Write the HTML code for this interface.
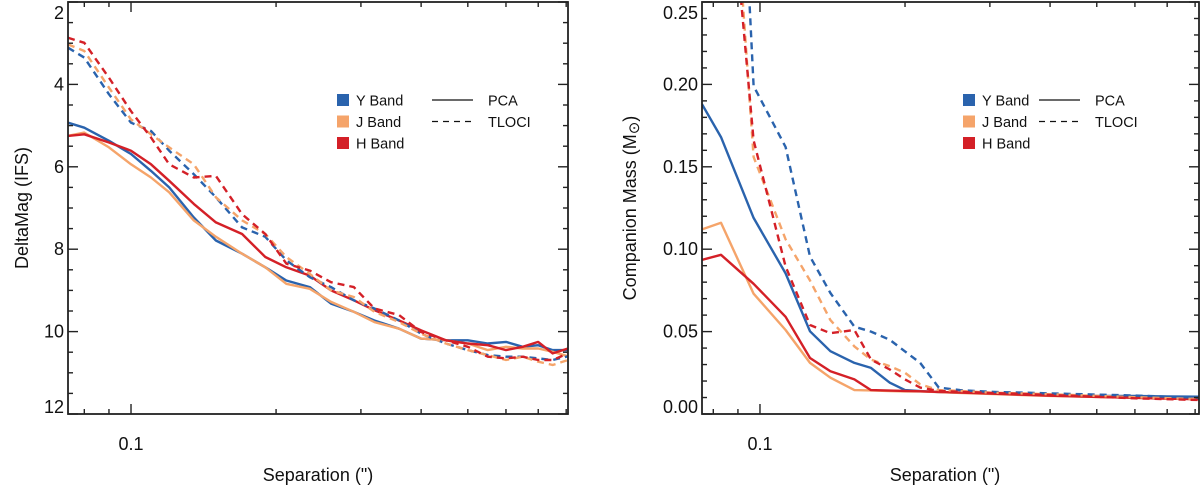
<!DOCTYPE html>
<html><head><meta charset="utf-8"><style>
html,body{margin:0;padding:0;background:#fff;}
svg{display:block;font-family:"Liberation Sans",sans-serif;}
</style></head><body>
<svg id="fig" width="1200" height="488" viewBox="0 0 1200 488"></svg>
<script>
// ---- Left chart data (DeltaMag) ----
const leftSep = [0.074,0.08,0.09,0.1,0.11,0.12,0.135,0.15,0.17,0.19,0.21,0.235,0.26,0.29,0.32,0.36,0.4,0.45,0.5,0.55,0.6,0.65,0.7,0.75,0.807];
const leftYPca = [4.93,5.05,5.37,5.69,6.10,6.5,7.23,7.79,8.11,8.44,8.76,8.92,9.32,9.52,9.73,9.93,10.17,10.21,10.21,10.29,10.25,10.37,10.33,10.45,10.45];
const leftJPca = [5.25,5.17,5.53,5.94,6.26,6.62,7.3,7.7,8.11,8.44,8.84,8.96,9.28,9.52,9.77,9.93,10.17,10.21,10.29,10.45,10.37,10.41,10.41,10.49,10.6];
const leftHPca = [5.25,5.21,5.41,5.61,5.94,6.34,6.9,7.35,7.63,8.19,8.44,8.64,9.0,9.24,9.48,9.73,9.97,10.21,10.29,10.33,10.45,10.37,10.25,10.53,10.41];
const leftYTloci = [3.11,3.35,4.24,4.93,5.13,5.61,6.18,6.74,7.47,7.7,8.27,8.68,8.92,9.24,9.44,9.73,10.05,10.29,10.45,10.57,10.61,10.61,10.65,10.69,10.6];
const leftJTloci = [3.03,3.19,4.08,4.85,5.21,5.53,5.94,6.74,7.3,7.63,8.19,8.6,9.0,9.16,9.52,9.77,10.05,10.29,10.45,10.57,10.69,10.61,10.73,10.81,10.69];
const leftHTloci = [2.87,2.99,3.84,4.65,5.29,5.94,6.26,6.22,7.15,7.63,8.35,8.52,8.8,8.92,9.44,9.6,10.01,10.21,10.37,10.61,10.65,10.61,10.69,10.69,10.53];
const leftYTicks = [2,4,6,8,10,12];
// ---- Right chart data (Companion mass) ----
const rightSep = [0.0758,0.083,0.097,0.113,0.127,0.14,0.157,0.17,0.186,0.2,0.215,0.235,0.26,0.3,0.35,0.4,0.5,0.6,0.7,0.815];
const rightYPca = [0.188,0.168,0.119,0.0853,0.0502,0.0381,0.031,0.028,0.019,0.0145,0.0139,0.0133,0.0129,0.0125,0.0119,0.0115,0.011,0.0109,0.0107,0.0105];
const rightJPca = [0.112,0.116,0.073,0.051,0.031,0.022,0.0145,0.0143,0.0139,0.0137,0.0137,0.0133,0.0128,0.0122,0.0115,0.011,0.0104,0.0098,0.0094,0.009];
const rightHPca = [0.0935,0.0966,0.079,0.059,0.034,0.026,0.021,0.0145,0.0142,0.014,0.0138,0.0134,0.013,0.0124,0.0117,0.0111,0.0104,0.0098,0.0093,0.009];
const rightYTloci = [0.8,0.6,0.199,0.162,0.0956,0.0734,0.053,0.05,0.045,0.038,0.031,0.016,0.0145,0.0135,0.013,0.0125,0.0118,0.0112,0.0105,0.0099];
const rightJTloci = [0.6,0.44,0.156,0.106,0.081,0.057,0.041,0.033,0.029,0.025,0.018,0.0145,0.014,0.013,0.0125,0.012,0.011,0.0102,0.0096,0.009];
const rightHTloci = [0.55,0.387,0.166,0.0895,0.054,0.049,0.051,0.033,0.027,0.021,0.016,0.014,0.0135,0.0128,0.0122,0.0115,0.0105,0.0095,0.009,0.0085];
const rightYTicks = ["0.00","0.05","0.10","0.15","0.20","0.25"];
const xMinorTicks = [0.08,0.09,0.1,0.2,0.3,0.4,0.5,0.6,0.7,0.8];

const C = {Y:'#2a63ad', J:'#f5a46a', H:'#d42027'};
const NS = 'http://www.w3.org/2000/svg';
const svg = document.getElementById('fig');
function mk(tag, attrs, parent){const e=document.createElementNS(NS,tag);for(const k in attrs)e.setAttribute(k,attrs[k]);(parent||svg).appendChild(e);return e;}

function chart(cfg){
  const g = mk('g',{});
  
  
  const {x0,x1,y0,y1,xmin,xmax,ymin,ymax} = cfg;
  const xs = v => x0 + (Math.log10(v)-Math.log10(xmin))/(Math.log10(xmax)-Math.log10(xmin))*(x1-x0);
  const ys = v => cfg.invert ? y0 + (v-ymin)/(ymax-ymin)*(y1-y0) : y1 - (v-ymin)/(ymax-ymin)*(y1-y0);
  const cid = 'clip-'+cfg.name;
  const cp = mk('clipPath',{id:cid},g); mk('rect',{x:x0,y:y0,width:x1-x0,height:y1-y0},cp);
  const series = mk('g',{'clip-path':`url(#${cid})`},g);
  
  
  cfg.series.forEach(s=>{
    const d = s.vals.map((v,i)=>(i?'L':'M')+xs(cfg.sep[i]).toFixed(1)+','+ys(v).toFixed(1)).join(' ');
    const p = mk('path',{d:d,fill:'none',stroke:s.color,'stroke-width':2.4,'stroke-linejoin':'round','stroke-dasharray':s.dash?'7,5':'none'},series);
    
    
  });
  const fr = mk('rect',{x:x0,y:y0,width:x1-x0,height:y1-y0,fill:'none',stroke:'#222','stroke-width':1.8},g);
  
  
  xMinorTicks.forEach(t=>{
    const x=xs(t); if(x<x0||x>x1) return; const L = t===0.1?10:5;
    mk('line',{x1:x,x2:x,y1:y1,y2:y1-L,stroke:'#222','stroke-width':1.4},g);
    mk('line',{x1:x,x2:x,y1:y0,y2:y0+L,stroke:'#222','stroke-width':1.4},g);
  });
  const xl = mk('text',{x:xs(0.1),y:450,'font-size':18,'text-anchor':'middle',fill:'#111'},g); xl.textContent='0.1';
  
  
  for(let v=ymin; v<=ymax+1e-9; v+=cfg.minor){
    const isMaj = Math.abs(Math.round(v/cfg.major)*cfg.major - v) < 1e-9;
    const L = isMaj?10:5, y=ys(v);
    mk('line',{x1:x0,x2:x0+L,y1:y,y2:y,stroke:'#222','stroke-width':1.4},g);
    mk('line',{x1:x1,x2:x1-L,y1:y,y2:y,stroke:'#222','stroke-width':1.4},g);
  }
  cfg.yTicks.forEach(t=>{
    let y=ys(parseFloat(t)); y = Math.min(Math.max(y+6, y0+17), y1-1);
    const tl = mk('text',{x:x0-4,y:y,'font-size':18,'text-anchor':'end',fill:'#111'},g); tl.textContent=t;
    
    
  });
  const xt = mk('text',{x:cfg.xtx,y:481,'font-size':18,'text-anchor':'middle',fill:'#111'},g); xt.textContent='Separation (")';
  
  
  const yt = mk('text',{x:0,y:0,'font-size':18,'text-anchor':'middle',fill:'#111',transform:`translate(${cfg.ytx},${(y0+y1)/2}) rotate(-90)`},g);
  yt.innerHTML = cfg.ytitle;
  
  
  const lg = mk('g',{},g);
  
  
  [['Y Band',C.Y],['J Band',C.J],['H Band',C.H]].forEach((b,i)=>{
    const y = 100 + i*21.5;
    mk('rect',{x:cfg.lx,y:y-6,width:12,height:12,fill:b[1]},lg);
    const t = mk('text',{x:cfg.lx+19,y:y+5.5,'font-size':14.5,fill:'#111'},lg); t.textContent=b[0];
    
    
  });
  [['PCA','none'],['TLOCI','6,5']].forEach((m,i)=>{
    const y = 100 + i*21.5;
    mk('line',{x1:cfg.lx2,x2:cfg.lx2+41,y1:y,y2:y,stroke:'#111','stroke-width':1.3,'stroke-dasharray':m[1]},lg);
    const t = mk('text',{x:cfg.lx2+56,y:y+5.5,'font-size':14.5,fill:'#111'},lg); t.textContent=m[0];
    
    
  });
}

chart({name:'deltamag-chart',x0:68,x1:568,y0:2,y1:414,xmin:0.074,xmax:0.807,ymin:2,ymax:12,invert:true,
  sep:leftSep,major:2,minor:0.5,yTicks:leftYTicks.map(String),xtx:318,ytx:28,ytitle:'DeltaMag (IFS)',lx:337,lx2:432,
  series:[{name:'y-band-pca',vals:leftYPca,color:C.Y},{name:'j-band-pca',vals:leftJPca,color:C.J},{name:'h-band-pca',vals:leftHPca,color:C.H},
          {name:'y-band-tloci',vals:leftYTloci,color:C.Y,dash:1},{name:'j-band-tloci',vals:leftJTloci,color:C.J,dash:1},{name:'h-band-tloci',vals:leftHTloci,color:C.H,dash:1}]});
chart({name:'companion-mass-chart',x0:702,x1:1199,y0:2,y1:414,xmin:0.0758,xmax:0.815,ymin:0,ymax:0.25,invert:false,
  sep:rightSep,major:0.05,minor:0.01,yTicks:rightYTicks,xtx:945,ytx:636,ytitle:'Companion Mass (M<tspan font-size="15" dy="3">⊙</tspan><tspan dy="-3">)</tspan>',lx:963,lx2:1039,
  series:[{name:'y-band-pca',vals:rightYPca,color:C.Y},{name:'j-band-pca',vals:rightJPca,color:C.J},{name:'h-band-pca',vals:rightHPca,color:C.H},
          {name:'y-band-tloci',vals:rightYTloci,color:C.Y,dash:1},{name:'j-band-tloci',vals:rightJTloci,color:C.J,dash:1},{name:'h-band-tloci',vals:rightHTloci,color:C.H,dash:1}]});
</script>
</body></html>
